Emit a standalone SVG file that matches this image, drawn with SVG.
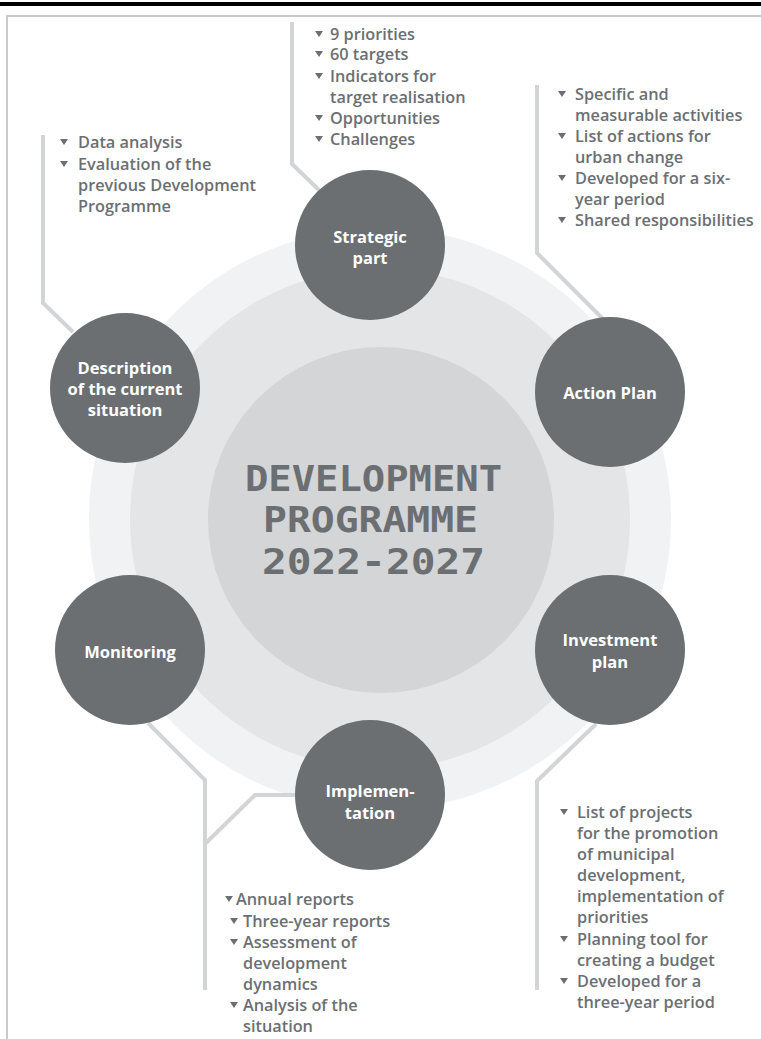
<svg xmlns="http://www.w3.org/2000/svg" width="761" height="1039" viewBox="0 0 761 1039">
<style>
.node{fill:#6b6f72}
.lbl{font-family:"Open Sans","Liberation Sans",sans-serif;font-weight:700;font-size:16.5px;fill:#ffffff;text-anchor:middle}
.lst{font-family:"Open Sans","Liberation Sans",sans-serif;font-weight:600;font-size:16.3px;fill:#6b6f73}
.con{fill:none;stroke:#d3d4d6;stroke-width:4;stroke-linejoin:miter}
.title{font-family:"DejaVu Sans Mono",monospace;font-weight:700;font-size:36px;fill:#6b6f72;text-anchor:middle}
.bul{fill:#6b6f73}
</style>
<defs>
<polygon id="tri" points="-4,-9 4,-9 0,-3"/>
</defs>
<rect x="0" y="0" width="761" height="1039" fill="#ffffff"/>
<rect x="0" y="2" width="761" height="4" fill="#000000"/>
<path d="M7,1039 V16 H761" fill="none" stroke="#c9c9c9" stroke-width="2"/>

<g id="rings">
<circle cx="380" cy="519" r="291" fill="#f1f2f3"/>
<circle cx="380" cy="519" r="250" fill="#e4e5e6"/>
<circle cx="381" cy="520" r="173" fill="#d4d5d7"/>
</g>

<g id="connectors">
<path class="con" d="M292,22 V164 L322,193"/>
<path class="con" d="M537,85 V253 L603,319"/>
<path class="con" d="M43,135 V303 L73,332"/>
<path class="con" d="M148,723 L205,780 V990"/>
<path class="con" d="M298,795 H255 L206,843"/>
<path class="con" d="M596,724 L537,781 V990"/>
</g>

<g id="center">
<text class="title" x="373.5" y="491" textLength="257" lengthAdjust="spacingAndGlyphs">DEVELOPMENT</text>
<text class="title" x="370.5" y="532" textLength="215" lengthAdjust="spacingAndGlyphs">PROGRAMME</text>
<text class="title" x="373.5" y="574" textLength="223" lengthAdjust="spacingAndGlyphs">2022-2027</text>
</g>

<g id="node-strategic">
<circle class="node" cx="370" cy="245" r="75"/>
<text class="lbl" x="370" y="243">Strategic</text>
<text class="lbl" x="370" y="264">part</text>
</g>
<g id="node-action">
<circle class="node" cx="610" cy="392" r="75"/>
<text class="lbl" x="610" y="399">Action Plan</text>
</g>
<g id="node-investment">
<circle class="node" cx="610" cy="650" r="75"/>
<text class="lbl" x="610" y="646">Investment</text>
<text class="lbl" x="610" y="668">plan</text>
</g>
<g id="node-implementation">
<circle class="node" cx="370" cy="795" r="75"/>
<text class="lbl" x="370" y="797">Implemen-</text>
<text class="lbl" x="370" y="819">tation</text>
</g>
<g id="node-monitoring">
<circle class="node" cx="130" cy="650" r="75"/>
<text class="lbl" x="130" y="658">Monitoring</text>
</g>
<g id="node-description">
<circle class="node" cx="125" cy="388" r="75"/>
<text class="lbl" x="125" y="374">Description</text>
<text class="lbl" x="125" y="395">of the current</text>
<text class="lbl" x="125" y="416">situation</text>
</g>

<g id="list-strategic">
<use href="#tri" class="bul" x="319" y="40"/>
<use href="#tri" class="bul" x="319" y="60"/>
<use href="#tri" class="bul" x="319" y="82"/>
<use href="#tri" class="bul" x="319" y="124"/>
<use href="#tri" class="bul" x="319" y="145"/>
<text class="lst" x="330" y="40">9 priorities</text>
<text class="lst" x="330" y="60">60 targets</text>
<text class="lst" x="330" y="82">Indicators for</text>
<text class="lst" x="330" y="103">target realisation</text>
<text class="lst" x="330" y="124">Opportunities</text>
<text class="lst" x="330" y="145">Challenges</text>
</g>

<g id="list-action">
<use href="#tri" class="bul" x="562" y="100"/>
<use href="#tri" class="bul" x="562" y="142"/>
<use href="#tri" class="bul" x="562" y="184"/>
<use href="#tri" class="bul" x="562" y="226"/>
<text class="lst" x="575" y="100">Specific and</text>
<text class="lst" x="575" y="121">measurable activities</text>
<text class="lst" x="575" y="142">List of actions for</text>
<text class="lst" x="575" y="163">urban change</text>
<text class="lst" x="575" y="184">Developed for a six-</text>
<text class="lst" x="575" y="205">year period</text>
<text class="lst" x="575" y="226">Shared responsibilities</text>
</g>

<g id="list-description">
<use href="#tri" class="bul" x="64" y="148"/>
<use href="#tri" class="bul" x="64" y="170"/>
<text class="lst" x="78" y="148">Data analysis</text>
<text class="lst" x="78" y="170">Evaluation of the</text>
<text class="lst" x="78" y="191">previous Development</text>
<text class="lst" x="78" y="212">Programme</text>
</g>

<g id="list-monitoring">
<use href="#tri" class="bul" x="229" y="905"/>
<use href="#tri" class="bul" x="234" y="927"/>
<use href="#tri" class="bul" x="234" y="948"/>
<use href="#tri" class="bul" x="234" y="1011"/>
<text class="lst" x="236" y="905">Annual reports</text>
<text class="lst" x="243" y="927">Three-year reports</text>
<text class="lst" x="243" y="948">Assessment of</text>
<text class="lst" x="243" y="969">development</text>
<text class="lst" x="243" y="990">dynamics</text>
<text class="lst" x="243" y="1011">Analysis of the</text>
<text class="lst" x="243" y="1032">situation</text>
</g>

<g id="list-investment">
<use href="#tri" class="bul" x="564" y="818"/>
<use href="#tri" class="bul" x="564" y="945"/>
<use href="#tri" class="bul" x="564" y="987"/>
<text class="lst" x="577" y="818">List of projects</text>
<text class="lst" x="577" y="839">for the promotion</text>
<text class="lst" x="577" y="860">of municipal</text>
<text class="lst" x="577" y="881">development,</text>
<text class="lst" x="577" y="902">implementation of</text>
<text class="lst" x="577" y="923">priorities</text>
<text class="lst" x="577" y="945">Planning tool for</text>
<text class="lst" x="577" y="966">creating a budget</text>
<text class="lst" x="577" y="987">Developed for a</text>
<text class="lst" x="577" y="1008">three-year period</text>
</g>
</svg>
